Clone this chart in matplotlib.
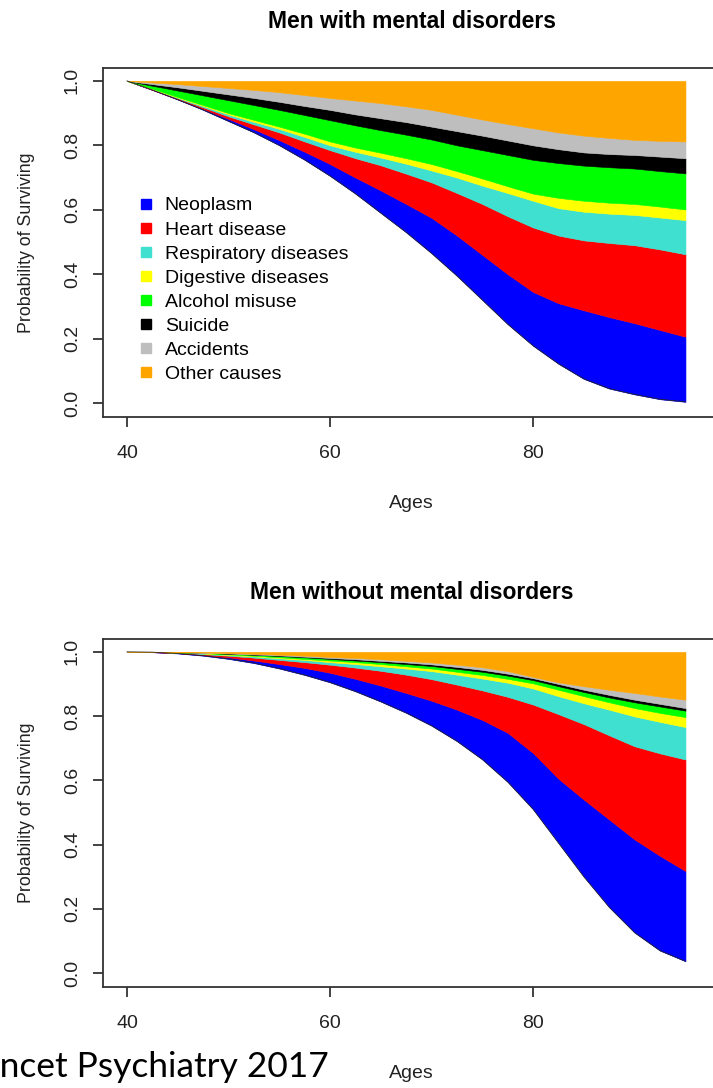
import matplotlib.pyplot as plt
from matplotlib.lines import Line2D

plt.rcParams['font.family'] = ['Liberation Sans', 'DejaVu Sans']

ages = [40, 42.5, 45, 47.5, 50, 52.5, 55, 57.5, 60, 62.5, 65, 67.5,
        70, 72.5, 75, 77.5, 80, 82.5, 85, 87.5, 90, 92.5, 95]

causas = ["Neoplasm", "Heart disease", "Respiratory diseases", "Digestive diseases",
          "Alcohol misuse", "Suicide", "Accidents", "Other causes"]
colores = ["#0000FF", "#FF0000", "#40E0D0", "#FFFF00",
           "#00FF00", "#000000", "#BEBEBE", "#FFA500"]

# Men with mental disorders: survival, then upper edge of each cause band
con_surv = [1.0, 0.972, 0.942, 0.910, 0.875, 0.840, 0.800, 0.755, 0.705, 0.650, 0.590, 0.530,
            0.465, 0.395, 0.320, 0.245, 0.178, 0.122, 0.075, 0.045, 0.027, 0.012, 0.004]
con_neo = [1.0, 0.972, 0.943, 0.913, 0.882, 0.850, 0.816, 0.780, 0.742, 0.700, 0.660, 0.618,
           0.575, 0.520, 0.460, 0.400, 0.345, 0.310, 0.288, 0.267, 0.248, 0.227, 0.206]
con_corazon = [1.0, 0.974, 0.946, 0.918, 0.890, 0.865, 0.840, 0.812, 0.785, 0.760, 0.738, 0.712,
               0.685, 0.652, 0.618, 0.580, 0.545, 0.520, 0.505, 0.497, 0.490, 0.477, 0.462]
con_resp = [1.0, 0.975, 0.948, 0.922, 0.896, 0.873, 0.851, 0.826, 0.800, 0.780, 0.762, 0.743,
            0.722, 0.700, 0.675, 0.652, 0.628, 0.605, 0.594, 0.588, 0.584, 0.576, 0.568]
con_dig = [1.0, 0.976, 0.950, 0.925, 0.900, 0.879, 0.858, 0.836, 0.812, 0.793, 0.777, 0.760,
           0.742, 0.720, 0.697, 0.673, 0.650, 0.637, 0.628, 0.622, 0.618, 0.610, 0.601]
con_alc = [1.0, 0.985, 0.970, 0.955, 0.940, 0.925, 0.910, 0.894, 0.878, 0.862, 0.847, 0.833,
           0.818, 0.800, 0.785, 0.770, 0.755, 0.745, 0.737, 0.732, 0.728, 0.720, 0.713]
con_suic = [1.0, 0.990, 0.980, 0.969, 0.958, 0.947, 0.935, 0.922, 0.910, 0.896, 0.884, 0.872,
            0.858, 0.844, 0.830, 0.815, 0.800, 0.788, 0.778, 0.773, 0.770, 0.765, 0.760]
con_acc = [1.0, 0.995, 0.990, 0.984, 0.978, 0.972, 0.965, 0.956, 0.947, 0.939, 0.931, 0.921,
           0.910, 0.895, 0.880, 0.866, 0.853, 0.840, 0.830, 0.823, 0.817, 0.814, 0.812]
con_otras = [1.0] * 23

# Men without mental disorders
sin_surv = [1.0, 0.999, 0.995, 0.988, 0.978, 0.965, 0.948, 0.928, 0.905, 0.877, 0.845, 0.810,
            0.770, 0.722, 0.665, 0.595, 0.510, 0.405, 0.300, 0.205, 0.126, 0.070, 0.037]
sin_neo = [1.0, 0.999, 0.996, 0.990, 0.983, 0.973, 0.962, 0.950, 0.935, 0.916, 0.895, 0.872,
           0.848, 0.820, 0.788, 0.748, 0.685, 0.605, 0.540, 0.478, 0.416, 0.365, 0.318]
sin_corazon = [1.0, 0.9995, 0.997, 0.993, 0.988, 0.982, 0.975, 0.968, 0.960, 0.951, 0.941, 0.929,
               0.915, 0.898, 0.880, 0.860, 0.836, 0.806, 0.775, 0.740, 0.706, 0.684, 0.665]
sin_resp = [1.0, 0.9997, 0.998, 0.995, 0.990, 0.986, 0.980, 0.975, 0.968, 0.962, 0.955, 0.948,
            0.940, 0.929, 0.917, 0.904, 0.886, 0.862, 0.840, 0.820, 0.799, 0.782, 0.766]
sin_dig = [1.0, 0.9998, 0.998, 0.996, 0.992, 0.988, 0.983, 0.978, 0.973, 0.968, 0.962, 0.955,
           0.948, 0.938, 0.928, 0.916, 0.902, 0.882, 0.862, 0.843, 0.825, 0.810, 0.797]
sin_alc = [1.0, 0.9998, 0.999, 0.997, 0.994, 0.991, 0.987, 0.983, 0.978, 0.973, 0.968, 0.962,
           0.956, 0.947, 0.938, 0.926, 0.912, 0.893, 0.875, 0.858, 0.843, 0.830, 0.817]
sin_suic = [1.0, 0.9999, 0.999, 0.997, 0.995, 0.992, 0.989, 0.985, 0.981, 0.977, 0.972, 0.967,
            0.961, 0.953, 0.944, 0.932, 0.918, 0.900, 0.882, 0.866, 0.851, 0.838, 0.825]
sin_acc = [1.0, 0.9999, 0.999, 0.998, 0.996, 0.994, 0.991, 0.988, 0.984, 0.981, 0.977, 0.972,
           0.967, 0.960, 0.952, 0.940, 0.922, 0.905, 0.893, 0.882, 0.872, 0.861, 0.851]
sin_otras = [1.0] * 23


def dibujar(ax, bordes, titulo, leyenda=False):
    for i in range(8):
        ax.fill_between(ages, bordes[i], bordes[i + 1], color=colores[i], lw=0.4)
    ax.plot(ages, bordes[0], color="#222222", lw=0.6)
    ax.set_xlim(37.64, 98.4)
    ax.set_ylim(-0.043, 1.040)
    ax.set_xticks([40, 60, 80])
    ax.set_yticks([0.0, 0.2, 0.4, 0.6, 0.8, 1.0])
    ax.set_yticklabels(["0.0", "0.2", "0.4", "0.6", "0.8", "1.0"])
    ax.tick_params(axis="both", length=7, width=1.2, labelsize=14, colors="#222222")
    ax.tick_params(axis="x", pad=13)
    ax.tick_params(axis="y", pad=9, labelrotation=90)
    for lab in ax.get_yticklabels():
        lab.set_va("center")
    for s in ax.spines.values():
        s.set_linewidth(1.3)
        s.set_color("#333333")
    ax.set_title(titulo, fontsize=16.5, fontweight="bold", pad=29)
    ax.set_xlabel("Ages", fontsize=14, labelpad=24, color="#222222")
    ax.set_ylabel("Probability of Surviving", fontsize=12.8, labelpad=21, color="#222222")
    if leyenda:
        handles = [Line2D([], [], ls="none", marker="s", markersize=7, color=c) for c in colores]
        ax.legend(handles, causas, loc="upper left", bbox_to_anchor=(0.045, 0.653),
                  frameon=False, fontsize=14, handlelength=0.8, handletextpad=0.55,
                  labelspacing=0.33, borderaxespad=0)


fig = plt.figure(figsize=(7.13, 10.88), dpi=100)
ax1 = fig.add_axes([103 / 713, 1 - 417 / 1088, 617 / 713, 349 / 1088])
ax2 = fig.add_axes([103 / 713, 1 - 987 / 1088, 617 / 713, 348 / 1088])

dibujar(ax1, [con_surv, con_neo, con_corazon, con_resp, con_dig, con_alc, con_suic, con_acc, con_otras],
        "Men with mental disorders", leyenda=True)
dibujar(ax2, [sin_surv, sin_neo, sin_corazon, sin_resp, sin_dig, sin_alc, sin_suic, sin_acc, sin_otras],
        "Men without mental disorders")

fig.text(329 / 713, 1 - 1077 / 1088, "Lancet Psychiatry 2017", ha="right", va="baseline",
         family="Lato", fontsize=25.5)

fig.savefig("out.png", dpi=100)
